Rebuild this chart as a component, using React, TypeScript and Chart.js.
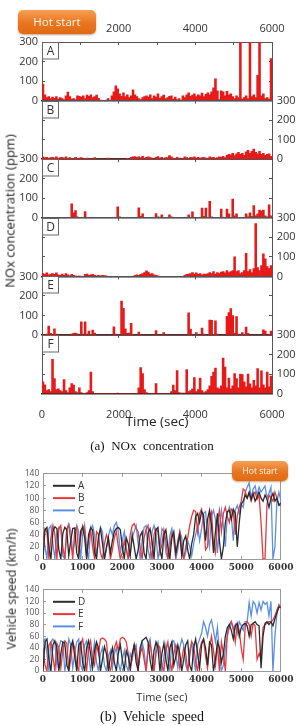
import React, { useEffect, useRef } from 'react';
import { Chart, registerables } from 'chart.js';

Chart.register(...registerables);

// ---------------- data ----------------
const TIME_MAX = 6000;
const NOX_BIN_SEC = 50; // each NOx value is the level inside one 50 s bin
const NOX_MAX = 300;
const NOX_STEP = 100;

const NOX_A = [
  85, 30, 15, 20, 10, 18, 12, 20, 8, 15,
  10, 5, 25, 44, 20, 8, 10, 5, 25, 22,
  18, 25, 10, 28, 22, 30, 15, 20, 28, 12,
  2, 0, 0, 2, 10, 0, 25, 45, 75, 60,
  35, 22, 40, 20, 30, 15, 25, 55, 30, 20,
  10, 5, 15, 20, 25, 18, 30, 10, 25, 18,
  35, 12, 20, 28, 10, 15, 22, 25, 8, 18,
  5, 10, 2, 25, 15, 30, 40, 22, 28, 35,
  20, 30, 25, 38, 20, 32, 40, 30, 45, 65,
  112, 50, 5, 50, 45, 25, 48, 30, 35, 20,
  10, 25, 15, 350, 8, 15, 25, 10, 350, 20,
  30, 15, 130, 350, 25, 35, 10, 15, 8, 215,
];
const NOX_B = [
  12, 8, 10, 5, 8, 10, 6, 12, 5, 8,
  10, 6, 12, 4, 8, 3, 5, 10, 2, 6,
  8, 0, 4, 6, 0, 3, 0, 8, 0, 0,
  0, 0, 0, 0, 6, 0, 0, 0, 0, 0,
  0, 0, 0, 0, 5, 0, 10, 12, 14, 10,
  12, 8, 15, 6, 10, 12, 8, 6, 0, 10,
  14, 6, 10, 5, 8, 8, 18, 12, 6, 5,
  10, 6, 0, 3, 12, 8, 5, 10, 8, 12,
  6, 10, 5, 8, 10, 6, 5, 12, 8, 10,
  5, 8, 12, 10, 15, 8, 20, 25, 22, 30,
  18, 28, 35, 25, 30, 20, 38, 45, 30, 40,
  52, 35, 28, 40, 25, 30, 20, 25, 28, 15,
];
const NOX_C = [
  2, 0, 1, 0, 0, 2, 0, 0, 1, 0, 0, 0, 2, 0, 0,
  72, 25, 37, 5, 0, 0, 0, 32, 0, 0, 0, 2, 0, 0, 0,
  0, 0, 2, 0, 0, 0, 0, 0, 0, 56, 5, 0, 0, 0, 0,
  2, 0, 0, 0, 0, 51, 8, 20, 0, 0, 0, 0, 2, 0, 21,
  5, 0, 15, 0, 0, 0, 15, 5, 0, 0, 2, 0, 0, 0, 0,
  0, 15, 0, 30, 2, 0, 2, 0, 50, 8, 50, 3, 84, 5, 2,
  0, 2, 0, 45, 3, 0, 45, 20, 3, 96, 10, 20, 3, 0, 3,
  0, 20, 5, 25, 8, 63, 10, 20, 40, 35, 40, 10, 5, 67, 10,
];
const NOX_D = [
  15, 10, 18, 8, 12, 15, 10, 18, 8, 5,
  12, 6, 15, 8, 3, 10, 5, 3, 0, 2,
  0, 0, 10, 12, 5, 8, 10, 5, 3, 5,
  2, 6, 4, 3, 0, 0, 0, 0, 0, 0,
  0, 0, 0, 0, 0, 0, 0, 0, 5, 8,
  6, 10, 15, 20, 28, 22, 12, 15, 8, 5,
  3, 0, 0, 0, 0, 0, 0, 0, 0, 0,
  0, 0, 0, 0, 5, 10, 12, 15, 20, 12,
  18, 10, 15, 8, 12, 10, 15, 20, 15, 25,
  12, 20, 15, 22, 25, 18, 30, 20, 25, 30,
  100, 25, 30, 15, 20, 30, 118, 25, 35, 20,
  40, 270, 45, 30, 55, 115, 90, 50, 40, 55,
];
const NOX_E = [
  3, 0, 5, 46, 8, 3, 31, 5, 0, 0,
  0, 0, 0, 0, 0, 5, 8, 10, 6, 0,
  68, 5, 68, 5, 20, 3, 25, 10, 0, 0,
  0, 0, 0, 0, 0, 0, 0, 42, 5, 0,
  0, 174, 137, 32, 8, 10, 60, 3, 0, 0,
  15, 0, 0, 0, 0, 0, 0, 0, 0, 22,
  0, 0, 0, 12, 0, 0, 0, 0, 0, 0,
  0, 0, 0, 0, 0, 0, 114, 30, 0, 0,
  12, 0, 0, 36, 5, 0, 0, 77, 75, 3,
  72, 5, 0, 0, 0, 0, 95, 115, 135, 100,
  8, 94, 5, 0, 12, 3, 41, 8, 0, 0,
  0, 0, 0, 0, 0, 26, 20, 0, 3, 20,
];
const NOX_F = [
  60, 45, 15, 20, 10, 175, 77, 20, 25, 15,
  10, 72, 15, 5, 30, 51, 43, 10, 5, 29,
  5, 0, 0, 5, 15, 110, 10, 0, 0, 0,
  0, 0, 0, 0, 0, 0, 0, 0, 0, 2,
  0, 0, 0, 0, 0, 0, 0, 0, 0, 0,
  30, 133, 102, 20, 5, 0, 0, 0, 0, 51,
  0, 0, 0, 0, 0, 0, 0, 10, 43, 15,
  118, 5, 3, 3, 3, 123, 10, 15, 25, 82,
  10, 20, 80, 15, 5, 10, 20, 40, 89, 110,
  131, 30, 25, 40, 182, 136, 30, 80, 25, 40,
  102, 77, 30, 100, 97, 60, 35, 100, 50, 30,
  68, 40, 128, 30, 116, 45, 30, 110, 35, 90,
];
const NOX_LABELS = ['A', 'B', 'C', 'D', 'E', 'F'];
const NOX_SERIES = [NOX_A, NOX_B, NOX_C, NOX_D, NOX_E, NOX_F];

const SPEED_STEP_SEC = 50; // one speed sample every 50 s, from 0 to 6000 s
const SPEED_MAX = 140;
const SPEED_A = [
  0, 48, 52, 20, 0, 45, 53, 50, 15, 0,
  42, 52, 48, 5, 30, 50, 51, 10, 0, 46,
  52, 35, 0, 40, 51, 48, 12, 0, 38, 50,
  25, 0, 20, 35, 10, 30, 45, 50, 52, 48,
  20, 0, 35, 25, 5, 40, 20, 0, 15, 38,
  45, 10, 0, 42, 50, 30, 0, 48, 52, 15,
  0, 40, 48, 20, 0, 35, 45, 10, 25, 40,
  5, 30, 38, 15, 0, 25, 40, 70, 75, 60,
  78, 72, 30, 65, 80, 55, 10, 45, 75, 30,
  0, 20, 60, 78, 80, 65, 82, 75, 20, 60,
  90, 95, 105, 100, 110, 98, 108, 95, 102, 110,
  100, 95, 105, 98, 85, 100, 108, 95, 100, 88, 92,
];
const SPEED_B = [
  30, 50, 45, 0, 35, 55, 40, 0, 50, 55,
  20, 0, 48, 55, 30, 0, 45, 52, 10, 35,
  55, 48, 5, 30, 50, 20, 0, 45, 40, 10,
  0, 25, 40, 30, 0, 15, 35, 45, 20, 0,
  10, 30, 15, 0, 40, 55, 58, 50, 45, 20,
  0, 35, 48, 55, 20, 0, 40, 50, 45, 10,
  25, 48, 30, 0, 20, 42, 35, 5, 30, 45,
  15, 0, 20, 35, 55, 70, 80, 78, 45, 75,
  82, 60, 15, 20, 70, 78, 25, 10, 60, 80,
  45, 75, 85, 70, 60, 82, 78, 40, 70, 85,
  95, 115, 112, 100, 108, 95, 105, 110, 98, 105,
  60, 0, 0, 90, 105, 100, 95, 110, 100, 90, 88,
];
const SPEED_C = [
  45, 20, 0, 50, 55, 25, 0, 42, 52, 48,
  5, 0, 50, 58, 45, 10, 30, 55, 45, 0,
  40, 56, 20, 0, 48, 55, 40, 5, 30, 52,
  45, 0, 15, 38, 50, 40, 55, 60, 45, 10,
  30, 45, 20, 0, 10, 35, 45, 55, 25, 0,
  30, 52, 55, 15, 0, 45, 55, 40, 0, 20,
  50, 45, 10, 0, 38, 50, 30, 0, 15, 45,
  35, 0, 10, 30, 20, 5, 25, 40, 55, 30,
  50, 75, 78, 40, 20, 70, 80, 65, 10, 50,
  80, 55, 20, 75, 85, 70, 30, 80, 88, 75,
  90, 85, 110, 118, 125, 100, 115, 120, 105, 118,
  110, 115, 120, 100, 108, 118, 0, 20, 95, 110, 95,
];
const SPEED_D = [
  0, 50, 55, 20, 0, 45, 52, 40, 0, 30,
  50, 48, 10, 0, 42, 52, 25, 0, 45, 50,
  15, 0, 40, 52, 30, 5, 35, 50, 40, 0,
  20, 42, 30, 0, 25, 40, 15, 0, 30, 45,
  20, 0, 35, 25, 5, 30, 45, 15, 0, 40,
  52, 55, 58, 50, 20, 0, 35, 50, 40, 0,
  30, 48, 20, 0, 40, 50, 10, 25, 45, 30,
  0, 20, 45, 52, 10, 0, 40, 55, 30, 5,
  45, 55, 40, 10, 50, 45, 0, 20, 50, 40,
  15, 30, 60, 75, 80, 70, 55, 78, 82, 60,
  75, 80, 82, 78, 60, 80, 82, 85, 80, 78,
  5, 60, 82, 85, 80, 85, 78, 90, 100, 110, 110,
];
const SPEED_E = [
  40, 10, 0, 45, 50, 25, 0, 48, 40, 5,
  35, 52, 48, 0, 20, 50, 40, 10, 0, 45,
  55, 30, 0, 40, 52, 20, 10, 45, 30, 55,
  57, 55, 50, 15, 0, 20, 40, 50, 35, 55,
  58, 56, 50, 30, 0, 25, 45, 35, 5, 30,
  40, 20, 0, 35, 48, 25, 0, 30, 45, 40,
  10, 0, 35, 50, 20, 0, 30, 45, 35, 5,
  20, 40, 30, 0, 25, 50, 45, 15, 0, 35,
  50, 55, 25, 5, 40, 60, 35, 10, 45, 0,
  50, 30, 0, 65, 80, 85, 75, 50, 82, 70,
  40, 20, 75, 85, 80, 60, 82, 78, 20, 30,
  20, 75, 80, 82, 85, 85, 88, 95, 105, 112, 108,
];
const SPEED_F = [
  50, 55, 30, 0, 50, 55, 48, 10, 40, 52,
  50, 0, 20, 55, 45, 5, 30, 50, 55, 10,
  0, 45, 52, 30, 0, 25, 50, 15, 0, 30,
  40, 10, 0, 25, 35, 5, 30, 40, 15, 0,
  20, 35, 10, 0, 30, 20, 40, 45, 5, 30,
  50, 35, 0, 45, 55, 20, 0, 40, 50, 30,
  0, 25, 45, 20, 0, 50, 52, 30, 5, 40,
  55, 45, 10, 0, 35, 50, 20, 0, 45, 55,
  65, 85, 75, 60, 80, 88, 70, 50, 75, 30,
  0, 10, 40, 60, 75, 85, 70, 80, 65, 85,
  78, 70, 85, 85, 118, 95, 120, 115, 100, 118,
  105, 120, 115, 118, 95, 120, 0, 60, 100, 115, 110,
];
const SPEED_GROUP_1 = { labels: ['A', 'B', 'C'], series: [SPEED_A, SPEED_B, SPEED_C] };
const SPEED_GROUP_2 = { labels: ['D', 'E', 'F'], series: [SPEED_D, SPEED_E, SPEED_F] };

// ---------------- styles & geometry ----------------
const SANS = '"Open Sans", "DejaVu Sans", sans-serif';
const SERIF_TICKS = '"DejaVu Serif", serif';
const CAPTION_FONT = '"Liberation Serif", "Times New Roman", serif';
const NOX_RED = '#e81919';
const SPEED_COLORS = ['#2b2b2b', '#e8383d', '#5b8fe3'];

const NOX_W = 300;
const NOX_H = 432;
const NOX_LEFT = 42;
const NOX_RIGHT = 272;
const NOX_TOP = 42;
const NOX_PANEL_H = 58.6;

// plain integer labels (no thousands separator)
const plain = (v: any) => String(v);

function panelTag(text: string) {
  return {
    id: 'panelTag',
    afterDatasetsDraw(chart: any) {
      const { ctx, chartArea } = chart;
      const x = Math.round(chartArea.left) + 0.5;
      const y = Math.round(chartArea.top) + 0.5;
      const w = 16;
      const h = 16.5;
      ctx.save();
      ctx.fillStyle = '#ffffff';
      ctx.fillRect(x, y, w, h);
      ctx.strokeStyle = '#666';
      ctx.lineWidth = 1;
      ctx.strokeRect(x, y, w, h);
      ctx.fillStyle = '#333';
      ctx.font = `12px ${SANS}`;
      ctx.textAlign = 'center';
      ctx.textBaseline = 'middle';
      ctx.fillText(text, x + w / 2, y + h / 2 + 0.5);
      ctx.restore();
    },
  };
}

function lineKey() {
  return {
    id: 'lineKey',
    afterDatasetsDraw(chart: any) {
      const { ctx, chartArea } = chart;
      ctx.save();
      chart.data.datasets.forEach((ds: any, i: number) => {
        const y = chartArea.top + 12 + i * 12.3;
        const x0 = chartArea.left + 10;
        ctx.strokeStyle = ds.borderColor;
        ctx.lineWidth = 2;
        ctx.beginPath();
        ctx.moveTo(x0, y);
        ctx.lineTo(x0 + 22, y);
        ctx.stroke();
        ctx.fillStyle = '#333';
        ctx.font = `10px ${SANS}`;
        ctx.textAlign = 'left';
        ctx.textBaseline = 'middle';
        ctx.fillText(ds.label, x0 + 25, y + 0.5);
      });
      ctx.restore();
    },
  };
}

function NoxPanel({ index, label, values }: { index: number; label: string; values: number[] }) {
  const ref = useRef<HTMLCanvasElement>(null);
  useEffect(() => {
    const top = NOX_TOP + index * NOX_PANEL_H;
    const bottom = top + NOX_PANEL_H;
    const first = index === 0;
    const last = index === NOX_SERIES.length - 1;
    const labelsLeft = index % 2 === 0;
    const tickFont = { family: SANS, size: 11 };
    const frame = '#555';
    const chart = new Chart(ref.current as HTMLCanvasElement, {
      type: 'bar',
      data: {
        datasets: [
          {
            label,
            data: values.map((v, i) => ({ x: (i + 0.5) * NOX_BIN_SEC, y: v })),
            backgroundColor: NOX_RED,
            borderWidth: 0,
            barPercentage: 1,
            categoryPercentage: 1,
            clip: 0,
            xAxisID: 'x',
            yAxisID: 'y',
          },
        ],
      },
      options: {
        animation: false,
        responsive: false,
        devicePixelRatio: 1,
        events: [],
        layout: { padding: 0, autoPadding: false },
        plugins: { legend: { display: false }, tooltip: { enabled: false } },
        scales: {
          x: {
            type: 'linear',
            position: 'bottom',
            min: 0,
            max: TIME_MAX,
            offset: false,
            afterFit: (s: any) => { s.height = NOX_H - bottom; },
            ticks: {
              display: last, stepSize: 2000, autoSkip: false, maxRotation: 0,
              font: tickFont, color: '#333', padding: 7, callback: plain,
            },
            grid: { display: false, offset: false },
            border: { display: true, color: '#2a2a2a', width: 1.5 },
            title: {
              display: last, text: 'Time (sec)', color: '#222',
              font: { family: SANS, size: 13.5 }, padding: { top: 0, bottom: 2 },
            },
          },
          xTop: {
            type: 'linear',
            position: 'top',
            min: 0,
            max: TIME_MAX,
            offset: false,
            afterFit: (s: any) => { s.height = top; },
            ticks: {
              display: first, stepSize: first ? 1000 : 2000, autoSkip: false, maxRotation: 0,
              font: tickFont, color: '#333', padding: 9.7,
              callback: (v: any) => (v > 0 && v % 2000 === 0 ? String(v) : ''),
            },
            grid: { drawOnChartArea: false, tickLength: -3, color: frame, offset: false },
            border: { display: true, color: frame, width: 1 },
          },
          y: {
            type: 'linear',
            position: 'left',
            min: 0,
            max: NOX_MAX,
            afterFit: (s: any) => { s.width = NOX_LEFT; },
            ticks: {
              display: labelsLeft, stepSize: NOX_STEP, autoSkip: false,
              font: tickFont, color: '#333', padding: 7, callback: plain,
            },
            grid: { drawOnChartArea: false, tickLength: -3, color: frame },
            border: { display: true, color: frame, width: 1 },
          },
          yRight: {
            type: 'linear',
            position: 'right',
            min: 0,
            max: NOX_MAX,
            afterFit: (s: any) => { s.width = NOX_W - NOX_RIGHT; },
            ticks: {
              display: !labelsLeft, stepSize: NOX_STEP, autoSkip: false,
              font: tickFont, color: '#333', padding: 7.7, callback: plain,
            },
            grid: { drawOnChartArea: false, tickLength: -3, color: frame },
            border: { display: true, color: frame, width: 1 },
          },
        },
      } as any,
      plugins: [panelTag(label)],
    });
    return () => chart.destroy();
  }, [index, label, values]);
  return (
    <canvas
      ref={ref}
      width={NOX_W}
      height={NOX_H}
      style={{ position: 'absolute', left: 0, top: 0, width: NOX_W, height: NOX_H }}
    />
  );
}

type SpeedProps = {
  labels: string[];
  series: number[][];
  canvasTop: number;
  canvasH: number;
  plotTop: number;
  plotBottom: number;
  withTitle: boolean;
};

function SpeedPanel({ labels, series, canvasTop, canvasH, plotTop, plotBottom, withTitle }: SpeedProps) {
  const ref = useRef<HTMLCanvasElement>(null);
  useEffect(() => {
    const frame = '#9a9a9a';
    const chart = new Chart(ref.current as HTMLCanvasElement, {
      type: 'line',
      data: {
        datasets: series.map((vals, k) => ({
          label: labels[k],
          data: vals.map((v, i) => ({ x: i * SPEED_STEP_SEC, y: v })),
          borderColor: SPEED_COLORS[k],
          backgroundColor: SPEED_COLORS[k],
          borderWidth: 1.3,
          pointRadius: 0,
          tension: 0,
          fill: false,
        })),
      },
      options: {
        animation: false,
        responsive: false,
        devicePixelRatio: 1,
        events: [],
        layout: { padding: 0, autoPadding: false },
        plugins: { legend: { display: false }, tooltip: { enabled: false } },
        scales: {
          x: {
            type: 'linear',
            position: 'bottom',
            min: 0,
            max: TIME_MAX,
            afterFit: (s: any) => { s.height = canvasH - (plotBottom - canvasTop); },
            ticks: {
              stepSize: 1000, autoSkip: false, maxRotation: 0, color: '#333', padding: 6.6,
              font: { family: SERIF_TICKS, size: 9, weight: 'bold' }, callback: plain,
            },
            grid: { drawOnChartArea: false, tickLength: -3, color: frame },
            border: { display: true, color: frame, width: 1 },
            title: {
              display: withTitle, text: 'Time (sec)', color: '#333',
              font: { family: SANS, size: 11 }, padding: { top: 0, bottom: 1.4 },
            },
          },
          xTop: {
            type: 'linear',
            position: 'top',
            min: 0,
            max: TIME_MAX,
            afterFit: (s: any) => { s.height = plotTop - canvasTop; },
            ticks: { display: false, stepSize: 1000, autoSkip: false },
            grid: { drawOnChartArea: false, tickLength: -3, color: frame },
            border: { display: true, color: frame, width: 1 },
          },
          y: {
            type: 'linear',
            position: 'left',
            min: 0,
            max: SPEED_MAX,
            afterFit: (s: any) => { s.width = 43; },
            ticks: {
              stepSize: 20, autoSkip: false, color: '#555', padding: 6.7,
              font: { family: SANS, size: 8.5 }, callback: plain,
            },
            grid: { drawOnChartArea: false, tickLength: -3, color: frame },
            border: { display: true, color: frame, width: 1 },
          },
          yRight: {
            type: 'linear',
            position: 'right',
            min: 0,
            max: SPEED_MAX,
            afterFit: (s: any) => { s.width = 13; },
            ticks: { display: false, stepSize: 20 },
            grid: { display: false },
            border: { display: true, color: frame, width: 1 },
          },
        },
      } as any,
      plugins: [lineKey()],
    });
    return () => chart.destroy();
  }, [labels, series, canvasTop, canvasH, plotTop, plotBottom, withTitle]);
  return (
    <canvas
      ref={ref}
      width={300}
      height={canvasH}
      style={{ position: 'absolute', left: 0, top: canvasTop, width: 300, height: canvasH }}
    />
  );
}

function Badge({ left, top, w, h, size }: { left: number; top: number; w: number; h: number; size: number }) {
  return (
    <div
      style={{
        position: 'absolute', left, top, width: w, height: h, borderRadius: 5,
        background: 'linear-gradient(#f6a055, #e8751f 55%, #e06a12)',
        boxShadow: '0 1px 2px rgba(120,60,10,0.45)',
        color: '#fff7ee', fontFamily: SANS, fontSize: size, lineHeight: `${h}px`,
        textAlign: 'center', whiteSpace: 'nowrap',
      }}
    >
      Hot start
    </div>
  );
}

function VerticalTitle({ x, y, size, text }: { x: number; y: number; size: number; text: string }) {
  return (
    <div
      style={{
        position: 'absolute', left: x, top: y, transform: 'translate(-50%, -50%) rotate(-90deg)',
        fontFamily: SANS, fontSize: size, color: '#222', whiteSpace: 'nowrap', lineHeight: 1,
      }}
    >
      {text}
    </div>
  );
}

function Caption({ y, size, text }: { y: number; size: number; text: string }) {
  return (
    <div
      style={{
        position: 'absolute', left: 2, top: y, width: 300, textAlign: 'center',
        fontFamily: CAPTION_FONT, fontSize: size, lineHeight: '16px', color: '#111', whiteSpace: 'pre',
      }}
    >
      {text}
    </div>
  );
}

export default function App() {
  return (
    <div style={{ position: 'absolute', left: 0, top: 0, width: 300, height: 726, background: '#fff', overflow: 'hidden' }}>
      {NOX_SERIES.map((vals, i) => (
        <NoxPanel key={NOX_LABELS[i]} index={i} label={NOX_LABELS[i]} values={vals} />
      ))}
      <Badge left={18} top={10} w={78} h={24} size={11.5} />
      <VerticalTitle x={10} y={211} size={13} text="NOx concentration (ppm)" />
      <Caption y={438} size={13} text="(a)  NOx  concentration" />

      <SpeedPanel
        labels={SPEED_GROUP_1.labels}
        series={SPEED_GROUP_1.series}
        canvasTop={462}
        canvasH={116}
        plotTop={472.7}
        plotBottom={559}
        withTitle={false}
      />
      <SpeedPanel
        labels={SPEED_GROUP_2.labels}
        series={SPEED_GROUP_2.series}
        canvasTop={578}
        canvasH={128}
        plotTop={587}
        plotBottom={671}
        withTitle={true}
      />
      <Badge left={232} top={461} w={56} h={20} size={8.5} />
      <VerticalTitle x={12} y={589} size={12.5} text="Vehicle speed (km/h)" />
      <Caption y={709} size={14} text="(b)  Vehicle  speed" />
    </div>
  );
}
